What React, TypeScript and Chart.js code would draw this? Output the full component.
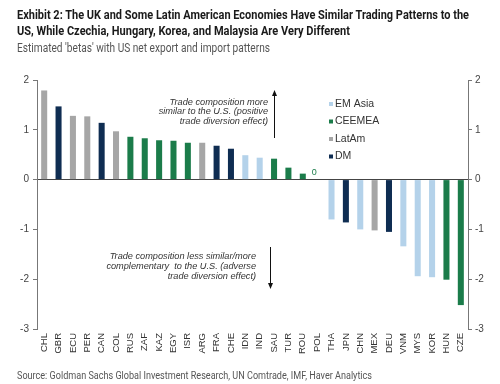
import React, { useEffect, useRef } from "react";
import { Chart, registerables } from "chart.js";

Chart.register(...registerables);

const countries = ["CHL","GBR","ECU","PER","CAN","COL","RUS","ZAF","KAZ","EGY","ISR","ARG","FRA","CHE","IDN","IND","SAU","TUR","ROU","POL","THA","JPN","CHN","MEX","DEU","VNM","MYS","KOR","HUN","CZE"];
const betas = [1.79,1.47,1.28,1.27,1.14,0.97,0.86,0.83,0.79,0.78,0.74,0.74,0.68,0.62,0.49,0.44,0.42,0.24,0.12,0,-0.8,-0.86,-1.0,-1.02,-1.05,-1.34,-1.94,-1.96,-2.01,-2.52];
const groups = ["LatAm","DM","LatAm","LatAm","DM","LatAm","CEEMEA","CEEMEA","CEEMEA","CEEMEA","CEEMEA","LatAm","DM","DM","EM Asia","EM Asia","CEEMEA","CEEMEA","CEEMEA","CEEMEA","EM Asia","DM","EM Asia","LatAm","DM","EM Asia","EM Asia","EM Asia","CEEMEA","CEEMEA"];
const legendGroups = ["EM Asia","CEEMEA","LatAm","DM"];
const groupColors: Record<string, string> = {
  "EM Asia": "#b4d2ea",
  "CEEMEA": "#1b7c4a",
  "LatAm": "#a6a6a6",
  "DM": "#0f2d52",
};
const yTicks = [2, 1, 0, -1, -2, -3];

const FONT = "'Liberation Sans', Arial, sans-serif";

const overlayPlugin = {
  id: "overlay",
  afterDraw(chart: any) {
    const ctx = chart.ctx;
    const xs = chart.scales.x;
    const ys = chart.scales.y;
    ctx.save();
    // legend
    ctx.font = `10.5px ${FONT}`;
    ctx.textBaseline = "middle";
    ctx.textAlign = "left";
    legendGroups.forEach((g, i) => {
      const y = 104 + i * 17.5;
      ctx.fillStyle = groupColors[g];
      ctx.fillRect(329, y - 2, 4, 4);
      ctx.fillStyle = "#333";
      ctx.fillText(g, 335, y);
    });
    // zero label for POL
    const polIdx = countries.indexOf("POL");
    ctx.font = `9px ${FONT}`;
    ctx.fillStyle = groupColors["CEEMEA"];
    ctx.textAlign = "center";
    ctx.fillText(String(betas[polIdx]), xs.getPixelForValue(polIdx) - 3, ys.getPixelForValue(0) - 7);
    // annotations
    ctx.font = `italic 9.2px ${FONT}`;
    ctx.fillStyle = "#333";
    ctx.textAlign = "right";
    ["Trade composition more", "similar to the U.S. (positive", "trade diversion effect)"].forEach((t, i) => {
      ctx.fillText(t, 268, 102 + i * 9.8);
    });
    ["Trade composition less similar/more", "complementary  to the U.S. (adverse", "trade diversion effect)"].forEach((t, i) => {
      ctx.fillText(t, 256, 256 + i * 10);
    });
    // arrows
    ctx.strokeStyle = "#111";
    ctx.fillStyle = "#111";
    ctx.lineWidth = 1;
    ctx.beginPath();
    ctx.moveTo(274.5, 138);
    ctx.lineTo(274.5, 95);
    ctx.stroke();
    ctx.beginPath();
    ctx.moveTo(274.5, 90);
    ctx.lineTo(272, 96);
    ctx.lineTo(277, 96);
    ctx.closePath();
    ctx.fill();
    ctx.beginPath();
    ctx.moveTo(270.5, 247);
    ctx.lineTo(270.5, 284);
    ctx.stroke();
    ctx.beginPath();
    ctx.moveTo(270.5, 289);
    ctx.lineTo(268, 283);
    ctx.lineTo(273, 283);
    ctx.closePath();
    ctx.fill();
    ctx.restore();
  },
};

function FitText(props: { text: string; width: number; style: React.CSSProperties }) {
  const ref = useRef<HTMLSpanElement>(null);
  useEffect(() => {
    const el = ref.current!;
    el.style.transform = "none";
    const w = el.getBoundingClientRect().width;
    if (w > 0) el.style.transform = `scaleX(${props.width / w})`;
  }, [props.text, props.width]);
  return (
    <span ref={ref} style={{ display: "inline-block", whiteSpace: "nowrap", transformOrigin: "0 0", ...props.style }}>
      {props.text}
    </span>
  );
}

export default function App() {
  const ref = useRef<HTMLCanvasElement>(null);
  useEffect(() => {
    document.body.style.margin = "0";
    const canvas = ref.current!;
    const chart = new Chart(canvas, {
      type: "bar",
      data: {
        labels: countries,
        datasets: [
          {
            data: betas,
            backgroundColor: groups.map((g) => groupColors[g]),
            barPercentage: 0.42,
            categoryPercentage: 1,
          },
        ],
      },
      options: {
        responsive: false,
        animation: false,
        layout: { padding: { top: 80, bottom: 0, left: 0, right: 0 } },
        plugins: { legend: { display: false }, tooltip: { enabled: false } },
        scales: {
          x: {
            grid: { display: false, drawTicks: false },
            border: { display: false },
            ticks: {
              autoSkip: false,
              maxRotation: 90,
              minRotation: 90,
              padding: 4,
              color: "#333",
              font: { family: FONT, size: 9.5 },
            },
            afterFit(s: any) { s.height = 55; },
          },
          y: {
            position: "left",
            min: -3,
            max: 2,
            afterBuildTicks(s: any) { s.ticks = yTicks.map((v) => ({ value: v })); },
            grid: {
              color: (c: any) => (c.tick && c.tick.value === 0 ? "#444" : "rgba(0,0,0,0)"),
              tickColor: "#777",
              tickLength: 4,
            },
            border: { color: "#777" },
            ticks: { padding: 4, color: "#444", font: { family: FONT, size: 10 } },
            afterFit(s: any) { s.width = 37; },
          },
          y2: {
            position: "right",
            min: -3,
            max: 2,
            afterBuildTicks(s: any) { s.ticks = yTicks.map((v) => ({ value: v })); },
            grid: { drawOnChartArea: false, tickColor: "#777", tickLength: 4 },
            border: { color: "#777" },
            ticks: { padding: 3, color: "#444", font: { family: FONT, size: 10 } },
            afterFit(s: any) { s.width = 32; },
          },
        },
      },
      plugins: [overlayPlugin],
    });
    return () => chart.destroy();
  }, []);

  const titleFont = "'Roboto', 'Liberation Sans', sans-serif";
  const titleStyle: React.CSSProperties = { fontFamily: titleFont, fontWeight: "bold", fontSize: 13.5, lineHeight: "16px", color: "#1a1a1a" };
  return (
    <div style={{ position: "relative", width: 500, height: 384, background: "#fff", overflow: "hidden" }}>
      <canvas ref={ref} width={500} height={384} style={{ position: "absolute", left: 0, top: 0 }} />
      <div style={{ position: "absolute", left: 17, top: 5 }}>
        <FitText text="Exhibit 2: The UK and Some Latin American Economies Have Similar Trading Patterns to the" width={452} style={titleStyle} />
      </div>
      <div style={{ position: "absolute", left: 17, top: 21 }}>
        <FitText text="US, While Czechia, Hungary, Korea, and Malaysia Are Very Different" width={333} style={titleStyle} />
      </div>
      <div style={{ position: "absolute", left: 17, top: 38 }}>
        <FitText text="Estimated 'betas' with US net export and import patterns" width={253} style={{ fontFamily: titleFont, fontSize: 12.5, lineHeight: "14px", color: "#555" }} />
      </div>
      <div style={{ position: "absolute", left: 17, top: 365 }}>
        <FitText text="Source: Goldman Sachs Global Investment Research, UN Comtrade, IMF, Haver Analytics" width={355} style={{ fontFamily: titleFont, fontSize: 11, lineHeight: "13px", color: "#555" }} />
      </div>
    </div>
  );
}
